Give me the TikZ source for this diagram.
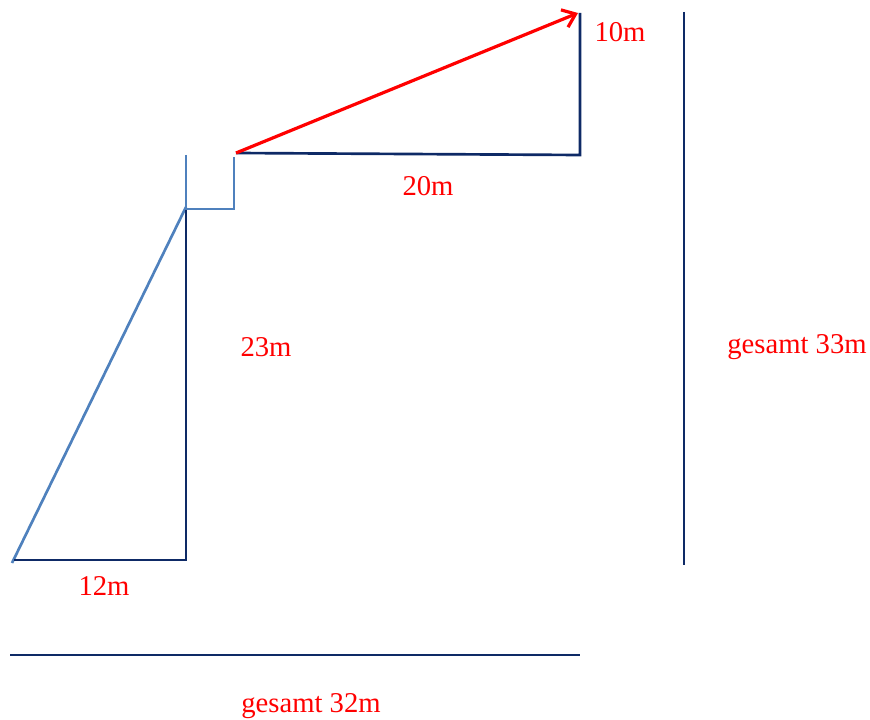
\documentclass[tikz,border=0pt]{standalone}
\usepackage{fontspec}
\setmainfont{Liberation Serif}
\usetikzlibrary{arrows.meta}
\definecolor{navy}{HTML}{0E2A66}
\definecolor{steel}{HTML}{4F81BD}
\definecolor{lred}{HTML}{FF0000}

\begin{document}
\begin{tikzpicture}[x=0.75pt,y=-0.75pt,>={Straight Barb[length=9pt,width=14pt]},
  leg/.style={navy,line width=2pt},
  slope/.style={steel,line width=2pt},
  lab/.style={lred,font=\fontsize{21.5}{24}\selectfont}]
\useasboundingbox (0,0) rectangle (870,720);
% first leg
\coordinate (A) at (12,563);
\coordinate (B) at (186,560);
\coordinate (C) at (186,207);
\draw[slope] (A) -- (C);
\draw[leg] (C) -- (B) -- (14,560);
% step between
\coordinate (S1) at (186,155);
\coordinate (S2) at (234,209);
\coordinate (D) at (236,153);
\draw[steel,line width=1.2pt] (S1) -- (C |- S2) -- (S2) -- (234,157);
% second leg
\coordinate (E) at (580,155);
\coordinate (F) at (580,13);
\draw[leg] (D) -- (E) -- (F);
\draw[->,lred,line width=2.4pt] (D) -- (578,13);
% totals
\coordinate (T1) at (684,12);
\coordinate (T2) at (684,565);
\draw[leg] (T1) -- (T2);
\coordinate (U1) at (10,655);
\coordinate (U2) at (580,655);
\draw[leg] (U1) -- (U2);
% labels
\node[lab] (l10) at (620,32) {10m};
\node[lab] (l20) at (428,186) {20m};
\node[lab] (l23) at (266,347) {23m};
\node[lab] (l12) at (104,586) {12m};
\node[lab] (l33) at (797,347) {gesamt 33m};
\node[lab] (l32) at (311,706) {gesamt 32m};
\end{tikzpicture}
\end{document}
